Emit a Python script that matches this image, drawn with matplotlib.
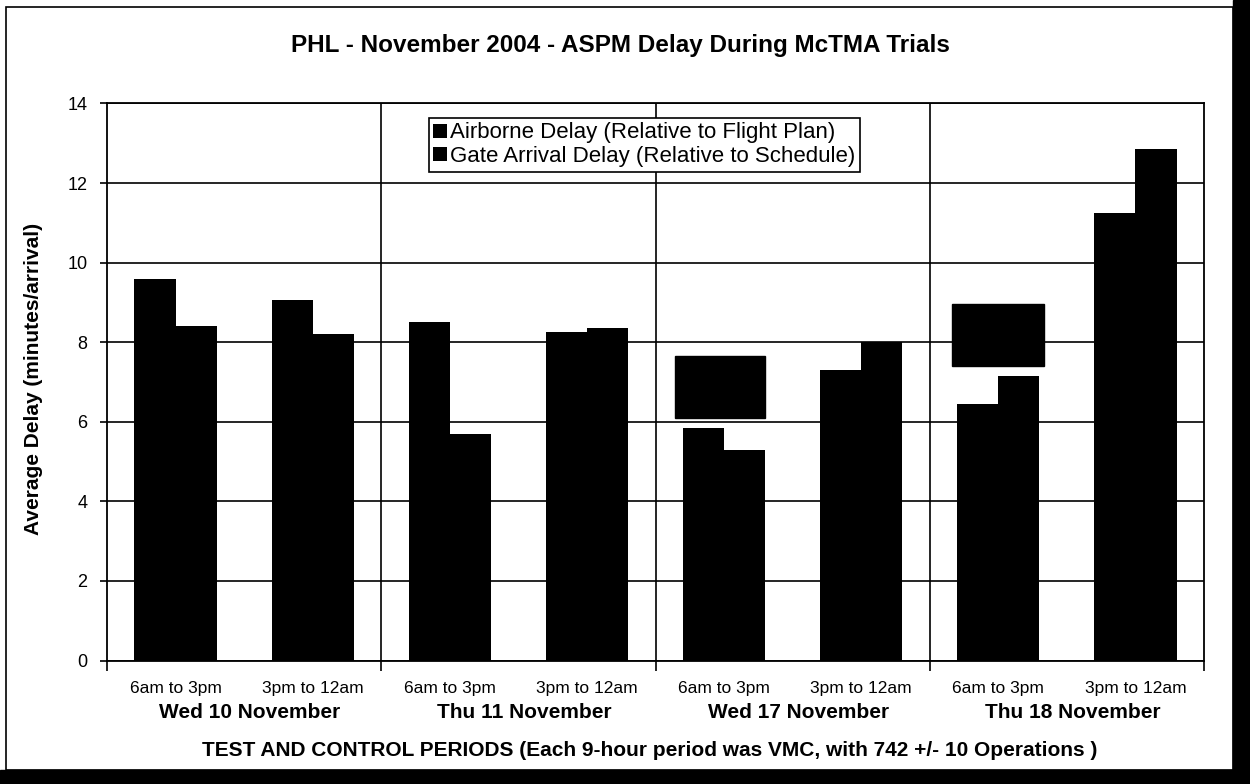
import matplotlib
matplotlib.use("Agg")
import matplotlib.pyplot as plt
from matplotlib.patches import Rectangle
from matplotlib.transforms import blended_transform_factory
import numpy as np

plt.rcParams["font.family"] = ["Liberation Sans", "DejaVu Sans"]

periods = ["6am to 3pm", "3pm to 12am"] * 4
days = ["Wed 10 November", "Thu 11 November", "Wed 17 November", "Thu 18 November"]
airborne = [9.6, 9.05, 8.5, 8.25, 5.85, 7.3, 6.45, 11.25]
gate = [8.4, 8.2, 5.7, 8.35, 5.3, 8.0, 7.15, 12.85]

# blacked-out boxes in the scanned original (category x-range, delay y-range)
box_x = [(4.14, 4.80), (6.16, 6.83)]
box_y = [(6.1, 7.65), (7.4, 8.95)]

fig = plt.figure(figsize=(12.5, 7.84), dpi=100)
ax = fig.add_axes([0.0856, 0.1575, 0.8776, 0.7105])

x = np.arange(len(periods)) + 0.5
w = 0.3
ax.bar(x - w / 2, airborne, w, color="black", label="Airborne Delay (Relative to Flight Plan)", zorder=3)
ax.bar(x + w / 2, gate, w, color="black", label="Gate Arrival Delay (Relative to Schedule)", zorder=3)

for (x0, x1), (y0, y1) in zip(box_x, box_y):
    ax.add_patch(Rectangle((x0, y0), x1 - x0, y1 - y0, color="black", zorder=3))

ax.set_xlim(0, 8)
ax.set_ylim(0, 14)
ax.set_yticks(range(0, 15, 2))
ax.tick_params(axis="y", labelsize=13, length=5, width=1.2, pad=9)
ax.yaxis.grid(True, color="black", linewidth=1.2, zorder=0)
ax.set_axisbelow(True)

for sep in [2, 4, 6]:
    ax.axvline(sep, color="black", linewidth=1.2, zorder=1)

ax.set_xticks(x)
ax.set_xticklabels(periods, fontsize=12.5)
ax.tick_params(axis="x", length=0, pad=15)
ax.set_xticks([0, 2, 4, 6, 8], minor=True)
ax.tick_params(axis="x", which="minor", length=7, width=1.2)

for s in ax.spines.values():
    s.set_linewidth(1.3)

trans = blended_transform_factory(ax.transData, ax.transAxes)
for i, d in enumerate(days):
    ax.text(2 * i + 1.04, -0.094, d, transform=trans, ha="center", va="center",
            fontsize=15, fontweight="bold")

ax.set_ylabel("Average Delay (minutes/arrival)", fontsize=15, fontweight="bold", labelpad=8)
ax.yaxis.set_label_coords(-0.058, 0.505)

fig.text(0.496, 0.942, "PHL - November 2004 - ASPM Delay During McTMA Trials",
         ha="center", va="center", fontsize=17.5, fontweight="bold")
fig.text(0.52, 0.043, "TEST AND CONTROL PERIODS (Each 9-hour period was VMC, with 742 +/- 10 Operations )",
         ha="center", va="center", fontsize=15, fontweight="bold")

leg = ax.legend(loc="upper left", bbox_to_anchor=(0.2935, 0.974), fontsize=16,
                frameon=True, fancybox=False, edgecolor="black", framealpha=1,
                handlelength=0.6, handleheight=0.6, handletextpad=0.15,
                borderpad=0.2, labelspacing=0.12, borderaxespad=0)
leg.get_frame().set_linewidth(1.2)

# page frame: thin top/left lines, heavy shadow on right/bottom
W, H = 1250, 784
fig.patches.append(Rectangle((1233 / W, 0), 17 / W, 1, color="black", transform=fig.transFigure))
fig.patches.append(Rectangle((0, 0), 1, 14 / H, color="black", transform=fig.transFigure))
fig.patches.append(Rectangle((6 / W, 14 / H), 1227 / W, (H - 21) / H, fill=False,
                             edgecolor="black", linewidth=1.2, transform=fig.transFigure))

fig.savefig("out.png", dpi=100)
